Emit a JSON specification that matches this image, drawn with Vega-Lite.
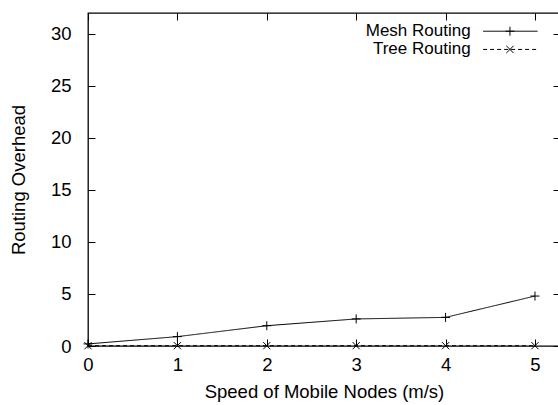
{
  "$schema": "https://vega.github.io/schema/vega-lite/v6.json",
  "width": 472,
  "height": 333,
  "autosize": {"type": "none"},
  "padding": {"left": 88, "top": 13, "right": 0, "bottom": 59},
  "background": "white",
  "config": {
    "font": "Liberation Sans",
    "view": {"stroke": "black", "strokeWidth": 1.3},
    "axis": {
      "grid": false,
      "domain": false,
      "tickColor": "black",
      "tickSize": -7,
      "tickWidth": 1,
      "labelColor": "black",
      "labelFont": "Liberation Sans",
      "labelFontSize": 18.5,
      "titleColor": "black",
      "titleFont": "Liberation Sans",
      "titleFontSize": 18.5,
      "titleFontWeight": "normal"
    }
  },
  "datasets": {
    "series": [
      {"speed": 0, "overhead": 0.2, "series": "Mesh Routing"},
      {"speed": 1, "overhead": 0.9, "series": "Mesh Routing"},
      {"speed": 2, "overhead": 1.95, "series": "Mesh Routing"},
      {"speed": 3, "overhead": 2.6, "series": "Mesh Routing"},
      {"speed": 4, "overhead": 2.75, "series": "Mesh Routing"},
      {"speed": 5, "overhead": 4.8, "series": "Mesh Routing"},
      {"speed": 0, "overhead": 0.03, "series": "Tree Routing"},
      {"speed": 1, "overhead": 0.03, "series": "Tree Routing"},
      {"speed": 2, "overhead": 0.03, "series": "Tree Routing"},
      {"speed": 3, "overhead": 0.03, "series": "Tree Routing"},
      {"speed": 4, "overhead": 0.03, "series": "Tree Routing"},
      {"speed": 5, "overhead": 0.03, "series": "Tree Routing"}
    ],
    "key": [
      {"series": "Mesh Routing", "textX": 4.28, "lineX": 4.42, "lineX2": 5.03, "markX": 4.72, "row": 30.25},
      {"series": "Tree Routing", "textX": 4.28, "lineX": 4.42, "lineX2": 5.03, "markX": 4.72, "row": 28.5}
    ]
  },
  "layer": [
    {
      "data": {"name": "series"},
      "mark": {"type": "line", "color": "black", "strokeWidth": 1},
      "encoding": {
        "x": {
          "field": "speed", "type": "quantitative",
          "scale": {"domain": [0, 5.28], "nice": false, "zero": false},
          "axis": {"orient": "bottom", "values": [0, 1, 2, 3, 4, 5], "labelPadding": 16, "title": "Speed of Mobile Nodes (m/s)", "titlePadding": 9, "labelFlush": false}
        },
        "y": {
          "field": "overhead", "type": "quantitative",
          "scale": {"domain": [0, 32], "nice": false},
          "axis": {"orient": "left", "values": [0, 5, 10, 15, 20, 25, 30], "labelPadding": 24, "title": "Routing Overhead", "titlePadding": 22}
        },
        "detail": {"field": "series"},
        "strokeDash": {
          "field": "series", "type": "nominal",
          "scale": {"domain": ["Mesh Routing", "Tree Routing"], "range": [[1, 0], [4, 3]]},
          "legend": null
        }
      }
    },
    {
      "data": {"name": "series"},
      "mark": {"type": "point", "filled": false, "color": "black", "strokeWidth": 1, "size": 81, "opacity": 1},
      "encoding": {
        "x": {"field": "speed", "type": "quantitative", "axis": null},
        "y": {"field": "overhead", "type": "quantitative", "axis": null},
        "shape": {
          "field": "series", "type": "nominal",
          "scale": {"domain": ["Mesh Routing", "Tree Routing"], "range": ["M-1,0H1M0,-1V1", "M-0.8,-0.8L0.8,0.8M-0.8,0.8L0.8,-0.8"]},
          "legend": null
        }
      }
    },
    {
      "data": {"name": "key"},
      "mark": {"type": "text", "align": "right", "baseline": "middle", "fontSize": 17, "font": "Liberation Sans", "color": "black"},
      "encoding": {
        "x": {"field": "textX", "type": "quantitative", "axis": null},
        "y": {"field": "row", "type": "quantitative", "axis": null},
        "text": {"field": "series"}
      }
    },
    {
      "data": {"name": "key"},
      "mark": {"type": "rule", "color": "black", "strokeWidth": 1},
      "encoding": {
        "x": {"field": "lineX", "type": "quantitative", "axis": null},
        "x2": {"field": "lineX2"},
        "y": {"field": "row", "type": "quantitative", "axis": null},
        "strokeDash": {
          "field": "series", "type": "nominal",
          "scale": {"domain": ["Mesh Routing", "Tree Routing"], "range": [[1, 0], [4, 3]]},
          "legend": null
        }
      }
    },
    {
      "data": {"name": "key"},
      "mark": {"type": "point", "filled": false, "color": "black", "strokeWidth": 1, "size": 81, "opacity": 1},
      "encoding": {
        "x": {"field": "markX", "type": "quantitative", "axis": null},
        "y": {"field": "row", "type": "quantitative", "axis": null},
        "shape": {
          "field": "series", "type": "nominal",
          "scale": {"domain": ["Mesh Routing", "Tree Routing"], "range": ["M-1,0H1M0,-1V1", "M-0.8,-0.8L0.8,0.8M-0.8,0.8L0.8,-0.8"]},
          "legend": null
        }
      }
    },
    {
      "data": {"name": "series"},
      "mark": {"type": "point", "opacity": 0},
      "encoding": {
        "x": {"field": "speed", "type": "quantitative", "axis": {"orient": "top", "values": [0, 1, 2, 3, 4, 5], "labels": false, "title": null}},
        "y": {"field": "overhead", "type": "quantitative", "axis": {"orient": "right", "values": [0, 5, 10, 15, 20, 25, 30], "labels": false, "title": null}}
      }
    }
  ],
  "resolve": {"axis": {"x": "independent", "y": "independent"}}
}
